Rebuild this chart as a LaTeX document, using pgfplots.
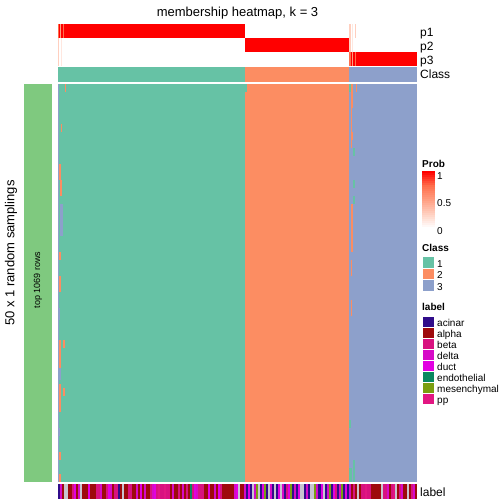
\documentclass[border=0pt]{standalone}
\usepackage{pgfplots}
\pgfplotsset{compat=1.18}
\usepackage{pgfplotstable}
\usepackage{fontspec}
\setmainfont{Liberation Sans}
\definecolor{cT}{HTML}{66C2A5}
\definecolor{cO}{HTML}{FC8D62}
\definecolor{cV}{HTML}{8DA0CB}
\definecolor{cG}{HTML}{7FC97F}
\definecolor{cA}{RGB}{48,12,138}
\definecolor{cR}{RGB}{158,10,12}
\definecolor{cB}{RGB}{216,18,128}
\definecolor{cD}{RGB}{214,10,200}
\definecolor{cU}{RGB}{226,0,226}
\definecolor{cE}{RGB}{10,136,96}
\definecolor{cM}{RGB}{122,158,16}
\definecolor{cP}{RGB}{226,22,130}
\definecolor{cX}{RGB}{200,196,208}
\definecolor{pA}{RGB}{255,207,191}
\definecolor{pB}{RGB}{255,158,129}
\definecolor{pC}{RGB}{255,110,76}
\newcommand{\rect}[5]{\addplot[draw=none, fill=#1, forget plot] coordinates {(#2,#4) (#3,#4) (#3,#5) (#2,#5)};}
\tikzset{
  t12/.style={anchor=base west, inner sep=0pt, font=\fontsize{12}{14}\selectfont},
  t10/.style={anchor=base west, inner sep=0pt, font=\fontsize{10}{12}\selectfont},
  t10b/.style={anchor=base west, inner sep=0pt, font=\fontsize{10}{12}\selectfont\bfseries},
  lb/.style={mark=|, line width=2.05pt, draw=#1},
}
\pgfplotstableread[row sep=\\]{c lab\\
0 A\\1 D\\2 R\\3 G\\4 G\\5 R\\6 R\\7 B\\8 U\\9 R\\10 D\\11 G\\12 R\\13 R\\14 R\\15 U\\16 R\\17 R\\18 R\\19 B\\
20 B\\21 D\\22 R\\23 R\\24 B\\25 U\\26 D\\27 R\\28 B\\29 B\\30 A\\31 R\\32 G\\33 R\\34 R\\35 B\\36 B\\37 R\\38 R\\39 D\\
40 R\\41 U\\42 R\\43 D\\44 R\\45 R\\46 B\\47 D\\48 U\\49 B\\50 P\\51 B\\52 B\\53 P\\54 B\\55 B\\56 R\\57 D\\58 R\\59 R\\
60 B\\61 R\\62 D\\63 R\\64 B\\65 R\\66 E\\67 B\\68 U\\69 D\\70 B\\71 B\\72 B\\73 R\\74 R\\75 U\\76 R\\77 R\\78 D\\79 R\\
80 U\\81 B\\82 R\\83 R\\84 R\\85 R\\86 R\\87 R\\88 D\\89 U\\90 G\\91 R\\92 R\\93 D\\94 A\\95 U\\96 A\\97 G\\98 D\\99 M\\
100 G\\101 A\\102 U\\103 M\\104 A\\105 G\\106 D\\107 A\\108 G\\109 A\\110 U\\111 G\\112 D\\113 A\\114 B\\115 U\\116 M\\117 A\\118 D\\119 A\\
120 U\\121 G\\122 G\\123 A\\124 D\\125 A\\126 G\\127 G\\128 M\\129 D\\130 A\\131 U\\132 G\\133 A\\134 D\\135 M\\136 A\\137 U\\138 B\\139 A\\
140 D\\141 M\\142 A\\143 U\\144 A\\145 D\\146 R\\147 B\\148 R\\149 G\\150 R\\151 B\\152 B\\153 P\\154 B\\155 B\\156 R\\157 R\\158 R\\159 R\\
160 R\\161 G\\162 B\\163 B\\164 D\\165 R\\166 B\\167 P\\168 G\\169 R\\170 B\\171 D\\172 R\\173 R\\174 G\\175 R\\176 B\\177 D\\178 R\\
}\labtab
\begin{document}
\begin{tikzpicture}
\begin{axis}[
  width=504pt, height=504pt, scale only axis,
  xmin=0, xmax=504, ymin=0, ymax=504, y dir=reverse,
  hide axis, clip=false,
  colormap={prob}{rgb255=(255,255,255) rgb255=(255,207,191) rgb255=(255,158,129) rgb255=(255,110,76) rgb255=(255,0,0)},
]
% background
\rect{white}{0}{504}{0}{504}
% top probability rows
\rect{red}{58}{245}{24}{38}
\rect{pC}{58}{59.3}{24}{38}
\rect{pB}{60}{61.2}{24}{38}
\rect{pC}{62.5}{63.5}{24}{38}
\rect{pA}{349.3}{350.5}{24}{38}
\rect{pA!50!white}{352}{353.2}{24}{38}
\rect{pA}{354.5}{355.5}{24}{38}
\rect{red}{245}{349.3}{38}{52}
\rect{pA}{58}{59.3}{38}{52}
\rect{pA!50!white}{60.5}{61.5}{38}{52}
\rect{pA}{349.3}{350.5}{38}{52}
\rect{pA!50!white}{352}{353.2}{38}{52}
\rect{red}{349.3}{416.7}{52}{66}
\rect{pC}{349.3}{350.5}{52}{66}
\rect{pB}{352}{353.2}{52}{66}
\rect{pC}{354.5}{355.5}{52}{66}
\rect{pA}{58}{59.3}{52}{66}
\rect{pA!50!white}{60.5}{61.5}{52}{66}
% class row
\rect{cT}{58}{245}{66.7}{81.7}
\rect{cO}{245}{349.3}{66.7}{81.7}
\rect{cV}{349.3}{416.7}{66.7}{81.7}
% left green bar
\rect{cG}{24}{52}{84}{482}
% body
\rect{cT}{58}{245}{84}{482}
\rect{cO}{245}{349.3}{84}{482}
\rect{cV}{349.3}{416.7}{84}{482}
\rect{cV}{58}{59.2}{84}{482}
\rect{cO}{64.5}{66}{84}{92}
\rect{cO}{61}{62.3}{124}{132}
\rect{cO}{59.2}{60.5}{164}{180}
\rect{cO}{60}{61.5}{180}{196}
\rect{cV}{60}{63}{204}{236}
\rect{cO}{59.2}{60.5}{252}{260}
\rect{cO}{59.2}{60.5}{276}{292}
\rect{cV}{58}{60}{308}{320}
\rect{cO}{59.2}{60.5}{340}{368}
\rect{cO}{63}{65}{340}{348}
\rect{cV}{58}{60.5}{368}{380}
\rect{cO}{59.2}{61}{384}{412}
\rect{cO}{63}{65}{388}{396}
\rect{cV}{58}{60.2}{428}{436}
\rect{cO}{59.2}{60.5}{452}{460}
\rect{cO}{59.2}{60.5}{474}{482}
\rect{cT}{245}{247}{84}{92}
\rect{cT}{349.3}{350.8}{84}{92}
\rect{cO}{351}{352.7}{84}{108}
\rect{cO}{356}{357.3}{84}{92}
\rect{cO}{351}{352}{108}{148}
\rect{cO}{351}{352.7}{132}{140}
\rect{cT}{353.3}{355}{148}{156}
\rect{cT}{353.3}{355}{180}{188}
\rect{cT}{353.3}{355}{196}{204}
\rect{cO}{351}{352.7}{204}{252}
\rect{cO}{351}{352}{260}{276}
\rect{cO}{351}{352}{300}{316}
\rect{cT}{349.3}{351}{420}{428}
\rect{cT}{349.3}{351.5}{468}{482}
\rect{cT}{353.3}{355}{460}{482}
% label bar
\addplot[scatter, only marks, point meta=explicit symbolic, mark=|, mark size=7.5pt, line width=2.05pt,
  scatter/classes={A={lb=cA}, R={lb=cR}, B={lb=cB}, D={lb=cD}, U={lb=cU}, E={lb=cE}, M={lb=cM}, P={lb=cP}, G={lb=cX}}]
  table[x expr={59.002+2.004*\thisrow{c}}, y expr=491.5, meta=lab] {\labtab};
% colorbar
\addplot[scatter, only marks, mark=-, mark size=6.5pt, line width=2.1pt, point meta=explicit,
  point meta min=0, point meta max=1,
  scatter/use mapped color={draw=mapped color, fill=mapped color}] coordinates {
  (428.5,228)[0] (428.5,226)[0.036] (428.5,224)[0.071] (428.5,222)[0.107] (428.5,220)[0.143]
  (428.5,218)[0.179] (428.5,216)[0.214] (428.5,214)[0.25] (428.5,212)[0.286] (428.5,210)[0.321]
  (428.5,208)[0.357] (428.5,206)[0.393] (428.5,204)[0.429] (428.5,202)[0.464] (428.5,200)[0.5]
  (428.5,198)[0.536] (428.5,196)[0.571] (428.5,194)[0.607] (428.5,192)[0.643] (428.5,190)[0.679]
  (428.5,188)[0.714] (428.5,186)[0.75] (428.5,184)[0.786] (428.5,182)[0.821] (428.5,180)[0.857]
  (428.5,178)[0.893] (428.5,176)[0.929] (428.5,174)[0.964] (428.5,172)[1]};
\rect{white}{422}{424.5}{173.2}{174}
\rect{white}{432.5}{435}{173.2}{174}
\rect{white}{422}{424.5}{201.8}{202.6}
\rect{white}{432.5}{435}{201.8}{202.6}
% class legend boxes
\rect{cT}{422.5}{433.5}{257}{267.5}
\rect{cO}{422.5}{433.5}{268.5}{279}
\rect{cV}{422.5}{433.5}{280}{290.5}
% label legend boxes
\rect{cA}{422.5}{433.5}{316.5}{326.5}
\rect{cR}{422.5}{433.5}{327.5}{337.5}
\rect{cB}{422.5}{433.5}{338.5}{348.5}
\rect{cD}{422.5}{433.5}{349.5}{359.5}
\rect{cU}{422.5}{433.5}{360.5}{370.5}
\rect{cE}{422.5}{433.5}{371.5}{381.5}
\rect{cM}{422.5}{433.5}{382.5}{392.5}
\rect{cP}{422.5}{433.5}{393.5}{403.5}
% texts
\node[anchor=base, inner sep=0pt, font=\fontsize{13}{15}\selectfont] at (axis cs:237.5,16.5) {membership heatmap, k = 3};
\node[t12] at (axis cs:420,36) {p1};
\node[t12] at (axis cs:420,50) {p2};
\node[t12] at (axis cs:420,64) {p3};
\node[t12] at (axis cs:420,78.5) {Class};
\node[t12] at (axis cs:420,496) {label};
\node[rotate=90, inner sep=0pt, font=\fontsize{13}{15}\selectfont] at (axis cs:11,253) {50 x 1 random samplings};
\node[rotate=90, inner sep=0pt, font=\fontsize{9}{11}\selectfont] at (axis cs:38,280) {top 1069 rows};
\node[t10b] at (axis cs:422,167.5) {Prob};
\node[t10] at (axis cs:437,179) {1};
\node[t10] at (axis cs:437,206.5) {0.5};
\node[t10] at (axis cs:437,234) {0};
\node[t10b] at (axis cs:422,251.5) {Class};
\node[t10] at (axis cs:437,267) {1};
\node[t10] at (axis cs:437,278.5) {2};
\node[t10] at (axis cs:437,290) {3};
\node[t10b] at (axis cs:422,310.5) {label};
\node[t10] at (axis cs:437,326) {acinar};
\node[t10] at (axis cs:437,337) {alpha};
\node[t10] at (axis cs:437,348) {beta};
\node[t10] at (axis cs:437,359) {delta};
\node[t10] at (axis cs:437,370) {duct};
\node[t10] at (axis cs:437,381) {endothelial};
\node[t10] at (axis cs:437,392) {mesenchymal};
\node[t10] at (axis cs:437,403) {pp};
\end{axis}
\end{tikzpicture}
\end{document}
